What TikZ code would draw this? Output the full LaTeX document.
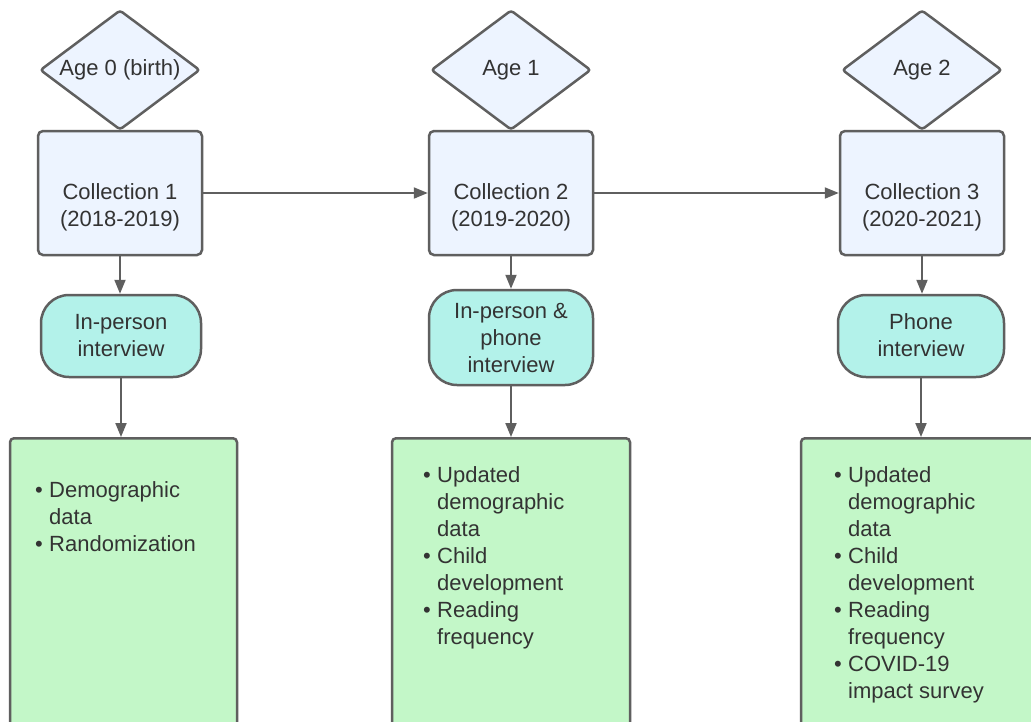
\documentclass[tikz,border=0pt]{standalone}
\usepackage{fontspec}
\setmainfont{Liberation Sans}
\usetikzlibrary{shapes.geometric,arrows.meta}
\definecolor{bluefill}{HTML}{EDF4FF}
\definecolor{mint}{HTML}{B3F2EA}
\definecolor{greenfill}{HTML}{C3F7C8}
\definecolor{edge}{HTML}{5F5F5F}
\definecolor{ink}{HTML}{333333}
\newcommand\bul{\makebox[14pt][l]{\textbullet}}
\newcommand\ind{\hspace*{14pt}}
\tikzset{
  x=1pt, y=-1pt,
  every node/.style={font=\fontsize{22}{27}\selectfont, text=ink},
  agebox/.style={diamond, draw=edge, line width=2.5pt, fill=bluefill, aspect=1.33,
    minimum width=160pt, minimum height=120pt, inner sep=0pt, rounded corners=3pt},
  collbox/.style={rectangle, draw=edge, line width=2.5pt, fill=bluefill,
    minimum width=164pt, minimum height=124pt, rounded corners=5pt},
  interbox/.style={rectangle, draw=edge, line width=2.5pt, fill=mint, align=center,
    rounded corners=28pt, inner sep=0pt},
  databox/.style={rectangle, draw=edge, line width=2.5pt, fill=greenfill, rounded corners=4pt,
    anchor=north, inner sep=0pt},
  txt/.style={align=center, inner sep=0pt, anchor=north},
  list/.style={align=left, inner sep=0pt, anchor=north west},
  conn/.style={draw=edge, line width=2pt, -{Triangle[length=14pt,width=11pt]}}
}
\begin{document}
\begin{tikzpicture}
\clip (0,0) rectangle (1031,721);
\fill[white] (0,0) rectangle (1031,721);
% collections
\node[collbox] (c1) at (120,193) {};
\node[collbox] (c2) at (511,193) {};
\node[collbox] (c3) at (922,193) {};
\node[txt] (c1t) at (120,183) {Collection 1\\(2018-2019)};
\node[txt] (c2t) at (511,183) {Collection 2\\(2019-2020)};
\node[txt] (c3t) at (922,183) {Collection 3\\(2020-2021)};
% ages
\node[agebox] (a1) at (120,70) {Age 0 (birth)};
\node[agebox] (a2) at (511,70) {Age 1};
\node[agebox] (a3) at (922,70) {Age 2};
% interviews
\node[interbox, minimum width=160pt, minimum height=82pt] (i1) at (121,336) {\raisebox{2pt}{In-person}\\\raisebox{2pt}{interview}};
\node[interbox, minimum width=164pt, minimum height=95pt] (i2) at (511,337.5) {In-person \&\\phone\\interview};
\node[interbox, minimum width=166pt, minimum height=82pt] (i3) at (921,336) {\raisebox{2pt}{Phone}\\\raisebox{2pt}{interview}};
% data boxes
\node[databox, minimum width=227pt, minimum height=320pt] (d1) at (123.5,437) {};
\node[databox, minimum width=238pt, minimum height=320pt] (d2) at (511,437) {};
\node[databox, minimum width=242pt, minimum height=320pt] (d3) at (922,437) {};
\node[list] (d1t) at (35,481) {\bul Demographic\\\ind data\\\bul Randomization};
\node[list] (d2t) at (423,466) {\bul Updated\\\ind demographic\\\ind data\\\bul Child\\\ind development\\\bul Reading\\\ind frequency};
\node[list] (d3t) at (834,466) {\bul Updated\\\ind demographic\\\ind data\\\bul Child\\\ind development\\\bul Reading\\\ind frequency\\\bul COVID-19\\\ind impact survey};
% connectors
\draw[conn] (c1.east) -- (c2.west);
\draw[conn] (c2.east) -- (c3.west);
\draw[conn] (c1.south) -- (c1.south |- i1.north);
\draw[conn] (c2.south) -- (i2.north);
\draw[conn] (c3.south) -- (c3.south |- i3.north);
\draw[conn] (i1.south) -- (i1.south |- d1.north);
\draw[conn] (i2.south) -- (d2.north);
\draw[conn] (i3.south) -- (i3.south |- d3.north);
\end{tikzpicture}
\end{document}
